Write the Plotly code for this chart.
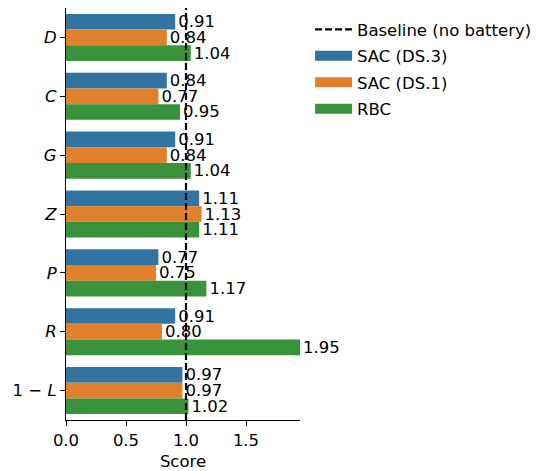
import plotly.graph_objects as go

categories = ["<i>D</i>", "<i>C</i>", "<i>G</i>", "<i>Z</i>", "<i>P</i>", "<i>R</i>", "1 − <i>L</i>"]
sac_ds3 = [0.91, 0.84, 0.91, 1.11, 0.77, 0.91, 0.97]
sac_ds1 = [0.84, 0.77, 0.84, 1.13, 0.75, 0.80, 0.97]
rbc = [1.04, 0.95, 1.04, 1.11, 1.17, 1.95, 1.02]
baseline = 1.0

series = [("SAC (DS.3)", sac_ds3, "#3274a1"),
          ("SAC (DS.1)", sac_ds1, "#e1812c"),
          ("RBC", rbc, "#3a923a")]

FONT = "DejaVu Sans, sans-serif"
FS = 16.5
fig = go.Figure()

for name, vals, color in series:
    fig.add_trace(go.Bar(
        y=categories, x=vals, orientation="h", name=name, showlegend=False,
        marker=dict(color=color, line=dict(width=0)),
        texttemplate="%{x:.2f}", textposition="outside", cliponaxis=False,
        constraintext="none", textfont=dict(size=FS, color="black", family=FONT),
    ))

# legend entries
fig.add_trace(go.Scatter(x=[None], y=[None], mode="lines", name="Baseline (no battery)",
                         legendgroup="g0",
                         line=dict(color="black", width=2.2, dash="7px,3px")))
for i, (name, vals, color) in enumerate(series):
    fig.add_trace(go.Scatter(x=[None], y=[None], mode="lines", name=name,
                             legendgroup=f"g{i+1}",
                             line=dict(color=color, width=11)))

fig.add_shape(type="line", x0=baseline, x1=baseline, xref="x", y0=0, y1=1, yref="paper",
              line=dict(color="black", width=2.2, dash="7px,3px"), layer="above")

fig.update_layout(
    width=549, height=471,
    margin=dict(l=66, r=249, t=8, b=51),
    plot_bgcolor="white", paper_bgcolor="white",
    barmode="group", bargap=0.2, bargroupgap=0,
    font=dict(family=FONT, size=FS, color="black"),
    showlegend=True,
    legend=dict(x=1.043, y=0.99, xanchor="left", yanchor="top", itemwidth=37,
                font=dict(size=FS), bgcolor="rgba(0,0,0,0)", tracegroupgap=2),
    xaxis=dict(range=[0, 1.95], tickvals=[0, 0.5, 1.0, 1.5], ticktext=["0.0", "0.5", "1.0", "1.5"],
               showline=True, linecolor="black", linewidth=1.2, ticks="outside", ticklen=5,
               tickcolor="black", showgrid=False, zeroline=False, automargin=False,
               title=dict(text="Score", font=dict(size=FS), standoff=9)),
    yaxis=dict(type="category", categoryorder="array", categoryarray=categories,
               autorange="reversed", showline=True, linecolor="black", linewidth=1.2,
               ticks="outside", ticklen=5, tickcolor="black", showgrid=False, zeroline=False),
)

fig.write_html("out.html")
